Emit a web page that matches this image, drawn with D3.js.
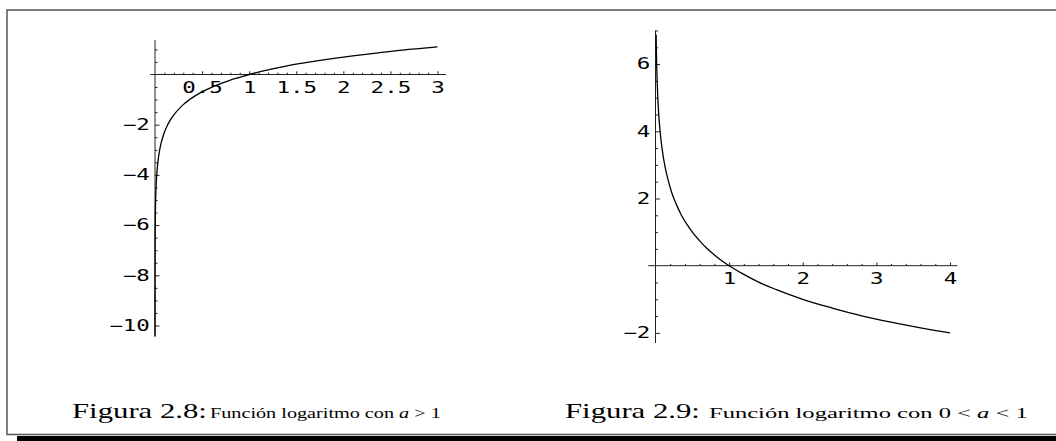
<!DOCTYPE html>
<html>
<head>
<meta charset="utf-8">
<script src="https://cdn.jsdelivr.net/npm/d3@7"></script>
<style>
  html, body { margin: 0; padding: 0; background: #fff; }
  svg { display: block; }
</style>
</head>
<body>
<svg id="page" width="1056" height="441"></svg>
<script>
// Figure 2.8: y = ln x
const logUpX = [0.00003, 0.0001, 0.0003, 0.001, 0.002, 0.004, 0.007, 0.01, 0.015, 0.02, 0.03, 0.045, 0.06, 0.08, 0.1, 0.13, 0.16, 0.2, 0.25, 0.3, 0.36, 0.43, 0.5, 0.6, 0.7, 0.8, 0.9, 1.0, 1.15, 1.3, 1.5, 1.7, 1.9, 2.1, 2.35, 2.6, 2.8, 3.0];
const logUpY = [-10.41, -9.21, -8.11, -6.91, -6.21, -5.52, -4.96, -4.61, -4.20, -3.91, -3.51, -3.10, -2.81, -2.53, -2.30, -2.04, -1.83, -1.61, -1.39, -1.20, -1.02, -0.84, -0.69, -0.51, -0.36, -0.22, -0.11, 0, 0.14, 0.26, 0.41, 0.53, 0.64, 0.74, 0.85, 0.96, 1.03, 1.10];
const upXTicks = [0.5, 1, 1.5, 2, 2.5, 3];
const upXLabels = ["0.5", "1", "1.5", "2", "2.5", "3"];
const upYTicks = [-2, -4, -6, -8, -10];
const upYLabels = ["\u22122", "\u22124", "\u22126", "\u22128", "\u221210"];

// Figure 2.9: y = log_{1/2} x
const logDownX = [0.0085, 0.01, 0.013, 0.017, 0.022, 0.03, 0.04, 0.055, 0.075, 0.1, 0.13, 0.17, 0.22, 0.28, 0.35, 0.43, 0.5, 0.6, 0.7, 0.8, 0.9, 1.0, 1.2, 1.4, 1.65, 2.0, 2.4, 2.8, 3.2, 3.6, 4.0];
const logDownY = [6.88, 6.64, 6.27, 5.88, 5.51, 5.06, 4.64, 4.18, 3.74, 3.32, 2.94, 2.56, 2.18, 1.84, 1.51, 1.22, 1.0, 0.74, 0.51, 0.32, 0.15, 0, -0.26, -0.49, -0.72, -1.0, -1.26, -1.49, -1.68, -1.85, -2.0];
const downXTicks = [1, 2, 3, 4];
const downXLabels = ["1", "2", "3", "4"];
const downYTicks = [-2, 2, 4, 6];
const downYLabels = ["\u22122", "2", "4", "6"];

const svg = d3.select("#page");

// page frame
svg.append("path")
  .attr("d", "M1056,10 H7 V434.5 H1056")
  .attr("fill", "none").attr("stroke", "#555").attr("stroke-width", 1.5);
svg.append("rect")
  .attr("x", 17).attr("y", 436).attr("width", 1039).attr("height", 5)
  .attr("fill", "#000");

const TICK_FONT = "'DejaVu Sans Mono', monospace";
const STRETCH = 1.5;

function panel(cfg) {
  const g = svg.append("g");
  const x = d3.scaleLinear().domain(cfg.xDomain).range(cfg.xRange);
  const y = d3.scaleLinear().domain(cfg.yDomain).range(cfg.yRange);

  // axis lines
  g.append("line")
    .attr("x1", x(cfg.xExtent[0])).attr("x2", x(cfg.xExtent[1]))
    .attr("y1", y(0)).attr("y2", y(0))
    .attr("stroke", "#222").attr("stroke-width", 1);
  g.append("line")
    .attr("x1", x(0)).attr("x2", x(0))
    .attr("y1", y(cfg.yExtent[0])).attr("y2", y(cfg.yExtent[1]))
    .attr("stroke", "#222").attr("stroke-width", 1);

  const style = sel => {
    sel.select(".domain").remove();
    sel.selectAll("line").attr("stroke", "#222").attr("stroke-width", 1);
  };

  // x ticks (pointing up)
  const xa = g.append("g").attr("transform", `translate(0,${y(0)})`);
  xa.append("g").call(d3.axisTop(x).tickValues(cfg.xMinor).tickSize(1.8).tickFormat("")).call(style);
  xa.append("g").call(d3.axisTop(x).tickValues(cfg.xTicks).tickSize(3.2).tickFormat("")).call(style);
  const xl = xa.append("g").call(
    d3.axisBottom(x).tickValues(cfg.xTicks).tickSize(0).tickPadding(8)
      .tickFormat((d, i) => cfg.xLabels[i]));
  xl.select(".domain").remove();
  xl.selectAll("text")
    .attr("font-family", TICK_FONT).attr("font-size", 15).attr("fill", "#000")
    .attr("transform", `scale(${STRETCH},1)`);

  // y ticks (pointing right)
  const ya = g.append("g").attr("transform", `translate(${x(0)},0)`);
  ya.append("g").call(d3.axisRight(y).tickValues(cfg.yMinor).tickSize(2.5).tickFormat("")).call(style);
  ya.append("g").call(d3.axisRight(y).tickValues(cfg.yTicks).tickSize(4.5).tickFormat("")).call(style);
  const yl = ya.append("g").call(
    d3.axisLeft(y).tickValues(cfg.yTicks).tickSize(0).tickPadding(3.5)
      .tickFormat((d, i) => cfg.yLabels[i]));
  yl.select(".domain").remove();
  yl.selectAll("text")
    .attr("font-family", TICK_FONT).attr("font-size", 15).attr("fill", "#000")
    .attr("transform", `scale(${STRETCH},1)`);

  // curve
  const pts = cfg.xs.map((v, i) => [v, cfg.ys[i]]);
  g.append("path")
    .datum(pts)
    .attr("fill", "none").attr("stroke", "#000").attr("stroke-width", 1.3)
    .attr("d", d3.line().x(d => x(d[0])).y(d => y(d[1])).curve(d3.curveMonotoneX));
}

const minorRange = (a, b, step, majors) =>
  d3.range(Math.round(a / step), Math.round(b / step) + 1)
    .map(k => +(k * step).toFixed(4))
    .filter(v => v !== 0 && !majors.includes(v));

panel({
  xDomain: [0, 3], xRange: [155, 437.5],
  yDomain: [0, -10], yRange: [74.5, 325.5],
  xExtent: [-0.05, 3.09], yExtent: [-10.46, 1.37],
  xTicks: upXTicks, xLabels: upXLabels,
  yTicks: upYTicks, yLabels: upYLabels,
  xMinor: minorRange(0.1, 3.0, 0.1, upXTicks),
  yMinor: minorRange(-10, 1, 0.5, upYTicks),
  xs: logUpX, ys: logUpY
});

panel({
  xDomain: [0, 4], xRange: [655.5, 950],
  yDomain: [0, -2], yRange: [265.7, 332.9],
  xExtent: [-0.1, 4.1], yExtent: [-2.3, 7.0],
  xTicks: downXTicks, xLabels: downXLabels,
  yTicks: downYTicks, yLabels: downYLabels,
  xMinor: minorRange(0.2, 4.0, 0.2, downXTicks),
  yMinor: minorRange(-2, 7, 0.5, downYTicks),
  xs: logDownX, ys: logDownY
});

// captions: a large label followed by smaller text, both in serif
const SERIF = "'Liberation Serif', 'Times New Roman', serif";
function caption(x, label, textStart, textEnd, parts) {
  svg.append("text")
    .attr("transform", `translate(${x},418) scale(${STRETCH},1)`)
    .attr("font-family", SERIF).attr("font-size", 20.5).attr("fill", "#000")
    .text(label);
  const t = svg.append("text")
    .attr("font-family", SERIF).attr("font-size", 14).attr("fill", "#000");
  parts.forEach(p => {
    t.append("tspan")
      .attr("font-style", p.italic ? "italic" : "normal")
      .text(p.text);
  });
  const natural = t.node().getComputedTextLength();
  t.attr("transform", `translate(${textStart},418) scale(${(textEnd - textStart) / natural},1)`);
}

caption(72, "Figura 2.8:", 210, 441, [
  { text: "Función logaritmo con " },
  { text: "a", italic: true },
  { text: " > 1" }
]);
caption(565, "Figura 2.9:", 709, 1028, [
  { text: "Función logaritmo con 0 < " },
  { text: "a", italic: true },
  { text: " < 1" }
]);
</script>
</body>
</html>
